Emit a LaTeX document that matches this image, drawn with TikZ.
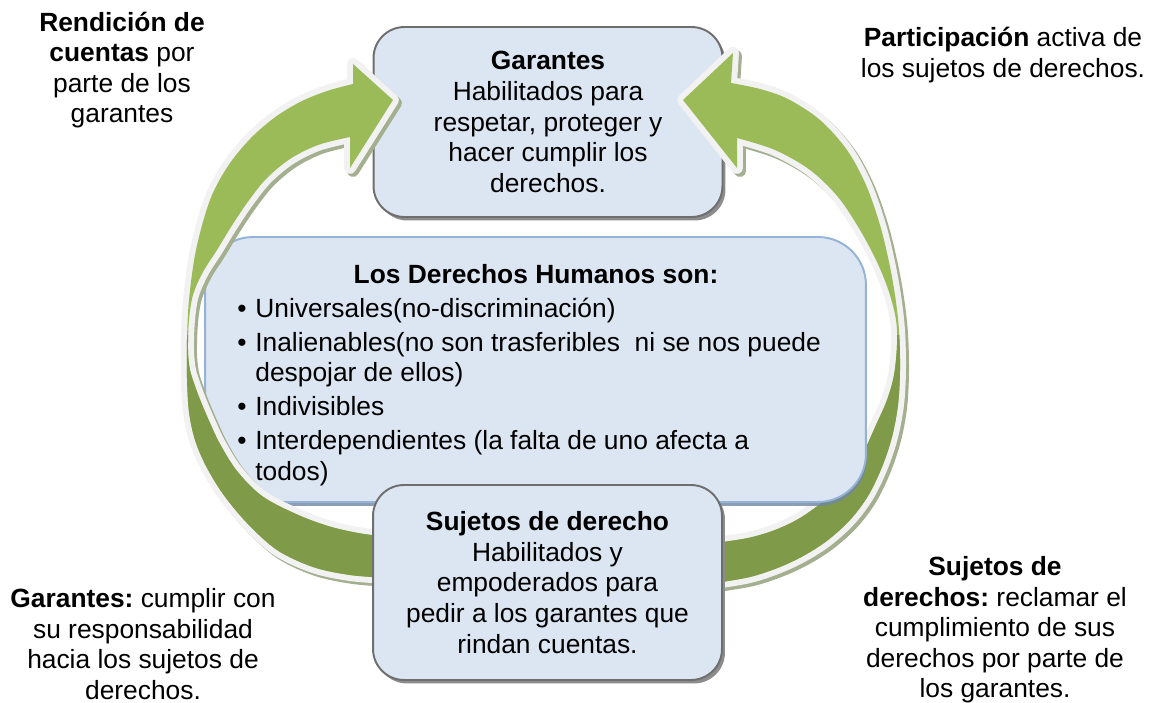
\documentclass[tikz,border=0pt]{standalone}
\usepackage{fontspec}
\setmainfont{Liberation Sans}
\usepackage{tikz}
\usetikzlibrary{shadows}
\usepackage{color}
\definecolor{cajafondo}{HTML}{DCE6F2}
\definecolor{cajaborde}{HTML}{6E6E6E}
\definecolor{marcoazul}{HTML}{95B3D7}
\definecolor{verdeclaro}{HTML}{9BBB59}
\definecolor{verdeoscuro}{HTML}{7F9A48}
\definecolor{bordeflecha}{HTML}{F2F2F2}
\definecolor{sombraflecha}{HTML}{A3AF8E}
\newcommand\diagfont{\fontsize{15}{17.4}\selectfont\frenchspacing}

\newcommand\flechaizq{plot[smooth, tension=0.55] coordinates {(388,578) (350,575) (313,567) (277,550) (247,523) (223,494) (206,466) (195,440) (189,412) (187,378) (187,340) (189,300) (196,250) (210,200) (228,166) (250,139) (274,118) (300,102) (327,91) (353,84)} -- (353,64) -- (393,100) -- (350,168) -- plot[smooth, tension=0.55] coordinates {(350,137) (318,145) (290,159) (266,179) (247,203) (231,227) (217,250) (203,272) (193,295) (189,320) (188,350) (190,370) (195,386) (201,402) (210,423) (220,444) (237,471) (262,496) (296,514) (328,526) (358,533) (388,537)} -- cycle}

\newcommand\flechader{plot[smooth, tension=0.55] coordinates {(715,583) (750,577) (780,567) (805,555) (828,540) (850,520) (868,496) (882,467) (892,437) (898,405) (900,370) (899,330) (895,295) (889,262) (880,225) (866,185) (847,150) (820,120) (788,99) (760,89) (731,83)} -- (733,53) -- (683,100) -- (737,168) -- plot[smooth, tension=0.55] coordinates {(737,138) (775,150) (810,170) (838,197) (860,230) (877,262) (889,292) (896,320) (897,345) (894,375) (887,400) (876,425) (862,455) (845,480) (825,500) (800,518) (775,530) (748,538) (715,543)} -- cycle}

\begin{document}
\begin{tikzpicture}[x=0.02cm, y=-0.02cm,
	caja/.style={draw=cajaborde, line width=1.1pt, fill=cajafondo, rounded corners=0.62cm, align=center, font=\diagfont, inner sep=0pt, minimum width=6.98cm, drop shadow={shadow xshift=0.06cm, shadow yshift=-0.07cm, fill=black!45, opacity=1}},
	marco/.style={draw=marcoazul, line width=1.1pt, fill=cajafondo, rounded corners=0.96cm, drop shadow={shadow xshift=0.02cm, shadow yshift=-0.08cm, fill=marcoazul!75!black, opacity=0.8}},
	rotulo/.style={align=center, font=\diagfont, inner sep=0pt},
	aro/.style={draw=bordeflecha, line width=6.8pt, line join=round},
	sombra/.style={draw=sombraflecha, fill=sombraflecha, line width=6.8pt, line join=round, shift={(3,3)}}]
	\useasboundingbox[fill=white] (0,0) rectangle (1150,703);

	\node[caja, minimum height=3.8cm] (garantes) at (548,122) {\textbf{Garantes}\\Habilitados para\\respetar, proteger y\\hacer cumplir los\\derechos.};

	% flecha derecha
	\path[sombra] \flechader;
	\path[aro] \flechader;
	\fill[verdeclaro] \flechader;
	\begin{scope}
		\clip (540,335) rectangle (1150,703);
		\fill[verdeoscuro] \flechader;
	\end{scope}

	\node[marco, minimum width=13.22cm, minimum height=5.3cm] (derechos) at (535.5,369.5) {};
	\node[rotulo, anchor=base] (titulo) at (536,283) {\textbf{Los Derechos Humanos son:}};
	\node[rotulo, anchor=base west] (lista) at (237,317) {\begin{tabular}[t]{@{}l@{\hspace{5pt}}l@{}}
		\textbullet & Universales(no-discriminación)\\[2pt]
		\textbullet & Inalienables(no son trasferibles\ \ ni se nos puede\\
		 & despojar de ellos)\\[2pt]
		\textbullet & Indivisibles\\[2pt]
		\textbullet & Interdependientes (la falta de uno afecta a\\
		 & todos)
	\end{tabular}};

	% flecha izquierda
	\path[sombra] \flechaizq;
	\path[aro] \flechaizq;
	\fill[verdeclaro] \flechaizq;
	\begin{scope}
		\clip (0,335) rectangle (540,703);
		\fill[verdeoscuro] \flechaizq;
	\end{scope}

	\node[caja, minimum height=3.9cm] (sujetos) at (547.5,582.5) {\textbf{Sujetos de derecho}\\Habilitados y\\empoderados para\\pedir a los garantes que\\rindan cuentas.};

	\node[rotulo] (rendicion) at (122,70) {\textbf{Rendición de}\\\textbf{cuentas} por\\parte de los\\garantes};
	\node[rotulo] (participacion) at (1003,55) {\textbf{Participación} activa de\\los sujetos de derechos.};
	\node[rotulo] (deberes) at (143,644) {\textbf{Garantes:} cumplir con\\su responsabilidad\\hacia los sujetos de\\derechos.};
	\node[rotulo] (reclamo) at (995,630) {\textbf{Sujetos de}\\\textbf{derechos:} reclamar el\\cumplimiento de sus\\derechos por parte de\\los garantes.};
\end{tikzpicture}
\end{document}
